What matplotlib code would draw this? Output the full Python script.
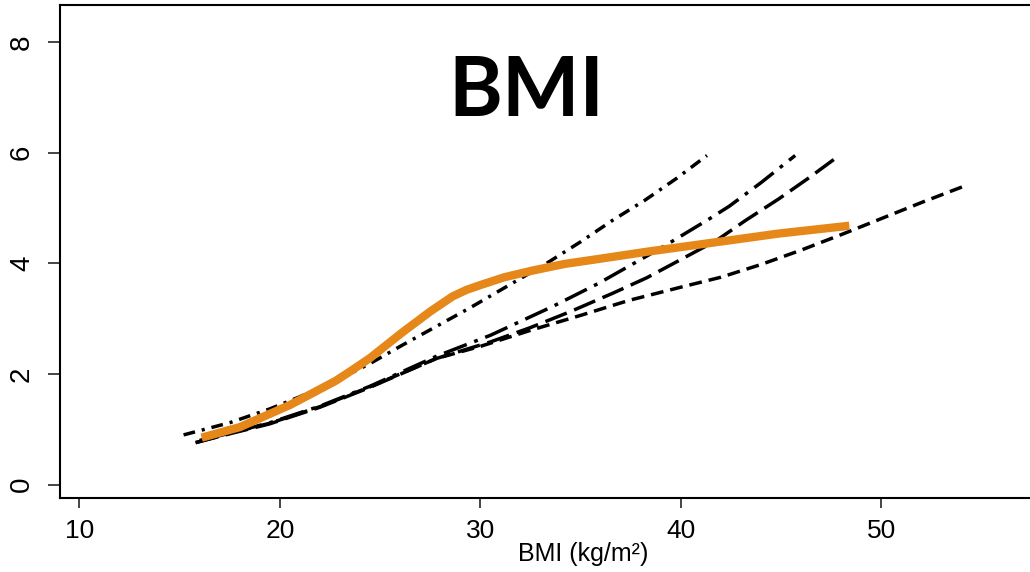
import matplotlib
matplotlib.use('Agg')
import matplotlib.pyplot as plt

# curves (BMI on x, value on y)
bmi_a = [15.2, 17.5, 19.5, 21.0, 22.8, 24.5, 26.1, 27.8, 29.5, 31.4, 33.3, 35.0, 36.6, 38.2, 39.8, 41.3]
val_a = [0.90, 1.12, 1.37, 1.59, 1.88, 2.19, 2.52, 2.86, 3.20, 3.60, 4.00, 4.39, 4.78, 5.14, 5.54, 5.95]

bmi_b = [15.8, 17.5, 19.5, 22.0, 24.5, 27.8, 30.5, 33.6, 35.9, 37.9, 39.3, 41.4, 42.4, 44.0, 45.7]
val_b = [0.76, 0.93, 1.12, 1.42, 1.78, 2.32, 2.70, 3.22, 3.64, 4.05, 4.34, 4.80, 5.03, 5.46, 5.95]

bmi_c = [15.8, 17.5, 19.5, 22.0, 24.5, 27.8, 30.5, 32.5, 34.5, 36.6, 38.3, 39.9, 41.8, 43.2, 44.9, 46.4, 47.9]
val_c = [0.76, 0.92, 1.10, 1.40, 1.76, 2.28, 2.58, 2.84, 3.13, 3.46, 3.74, 4.05, 4.42, 4.77, 5.17, 5.55, 5.95]

bmi_d = [16.0, 17.5, 19.5, 22.0, 24.5, 27.8, 30.0, 32.5, 35.0, 37.4, 40.0, 42.0, 44.0, 46.0, 48.0, 50.0, 52.0, 54.3]
val_d = [0.80, 0.93, 1.11, 1.41, 1.77, 2.28, 2.50, 2.79, 3.06, 3.33, 3.57, 3.75, 3.98, 4.24, 4.52, 4.81, 5.10, 5.42]

bmi_main = [16.1, 18.0, 19.5, 20.5, 21.5, 22.8, 23.6, 24.5, 25.3, 26.1, 27.5, 28.6, 29.3, 30.1, 31.2,
            32.6, 34.2, 35.9, 38.3, 40.9, 44.9, 48.4]
val_main = [0.85, 1.04, 1.28, 1.44, 1.63, 1.88, 2.07, 2.29, 2.52, 2.75, 3.13, 3.40, 3.52, 3.62, 3.75,
            3.87, 3.99, 4.08, 4.21, 4.34, 4.54, 4.68]

x_ticks = [10, 20, 30, 40, 50]
y_ticks = [0, 2, 4, 6, 8]

plt.rcParams['font.family'] = ['Liberation Sans', 'DejaVu Sans']

fig = plt.figure(figsize=(10.3, 5.72), dpi=100)
ax = fig.add_axes([0.0583, 0.1299, 1.0155, 0.8614])

lw = 2.5
ax.plot(bmi_a, val_a, color='black', lw=lw, linestyle=(0, (3.4, 2.0, 0.9, 2.0)))
ax.plot(bmi_b, val_b, color='black', lw=lw, linestyle=(0, (7.0, 2.3, 1.1, 2.3)))
ax.plot(bmi_c, val_c, color='black', lw=lw, linestyle=(0, (6.6, 2.3)))
ax.plot(bmi_d, val_d, color='black', lw=lw, linestyle=(0, (3.7, 2.0)))
ax.plot(bmi_main, val_main, color='#E6871A', lw=6, solid_capstyle='butt', solid_joinstyle='round')

ax.set_xlim(9.04, 61.2)
ax.set_ylim(-0.235, 8.67)
ax.set_xticks(x_ticks)
ax.set_yticks(y_ticks)

for side in ['left', 'bottom', 'top']:
    ax.spines[side].set_linewidth(1.5)
    ax.spines[side].set_color('black')
ax.spines['right'].set_visible(False)

ax.tick_params(axis='x', length=7, width=1.4, color='#444444', pad=8, labelsize=19)
ax.tick_params(axis='y', length=9, width=1.4, color='#444444', pad=9, labelsize=20,
               labelrotation=90)
for lab in ax.get_yticklabels():
    lab.set_va('center')

ax.set_xlabel('BMI (kg/m²)', fontsize=18)
ax.xaxis.label.set_va('baseline')
ax.xaxis.set_label_coords(0.5, -0.128)

fig.text(526 / 1030, 1 - 116 / 572, 'BMI', fontsize=59, fontweight='bold',
         family='Lato', ha='center', va='baseline')

fig.savefig('out.png', dpi=100)
